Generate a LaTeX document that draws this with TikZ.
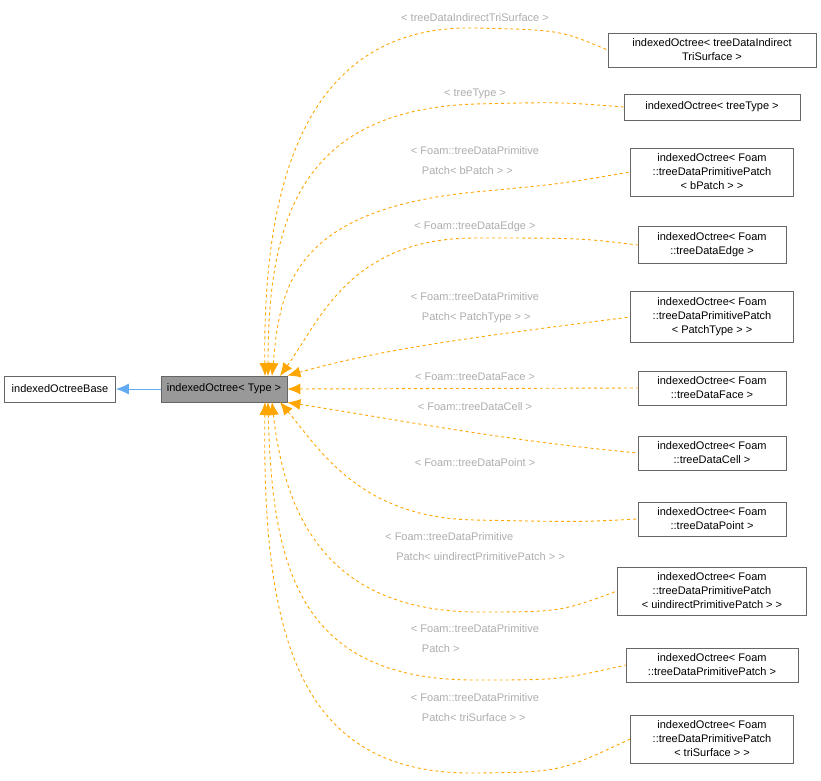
\documentclass[tikz,border=0pt]{standalone}
\usepackage{fontspec}
\setmainfont{Liberation Sans}
\usetikzlibrary{arrows.meta}
\definecolor{edgeorange}{rgb}{1,0.65,0}
\definecolor{labelgray}{rgb}{0.68,0.68,0.68}
\definecolor{basegray}{rgb}{0.6,0.6,0.6}
\definecolor{baseblue}{rgb}{0.39,0.67,0.94}

\begin{document}
\begin{tikzpicture}[x=1pt,y=-1pt,font=\fontsize{11}{14}\selectfont]
\tikzstyle{box} = [draw=black!60, fill=white, align=center, inner xsep=3pt, inner ysep=6pt, minimum height=26pt, line width=0.8pt]
\tikzstyle{tmpl} = [dashed, edgeorange, line width=0.9pt, {Latex[length=13pt,width=11pt]}-]
\tikzstyle{lbl} = [text=labelgray, align=left, font=\fontsize{11}{20}\selectfont]
\useasboundingbox (0,0) rectangle (821,780);

\node[box, minimum width=111pt] (base) at (60,389) {indexedOctreeBase};
\node[box, minimum width=126pt, fill=basegray] (type) at (224,389) {indexedOctree< Type >};

\node[box, minimum width=208pt] (n1) at (712,50) {indexedOctree< treeDataIndirect\\TriSurface >};
\node[box, minimum width=176pt] (n2) at (712,107) {indexedOctree< treeType >};
\node[box, minimum width=163pt] (n3) at (712,172) {indexedOctree< Foam\\::treeDataPrimitivePatch\\< bPatch > >};
\node[box, minimum width=148pt] (n4) at (712,245) {indexedOctree< Foam\\::treeDataEdge >};
\node[box, minimum width=163pt] (n5) at (712,317) {indexedOctree< Foam\\::treeDataPrimitivePatch\\< PatchType > >};
\node[box, minimum width=148pt] (n6) at (712,388) {indexedOctree< Foam\\::treeDataFace >};
\node[box, minimum width=148pt] (n7) at (712,453) {indexedOctree< Foam\\::treeDataCell >};
\node[box, minimum width=148pt] (n8) at (712,519) {indexedOctree< Foam\\::treeDataPoint >};
\node[box, minimum width=189pt] (n9) at (712,591) {indexedOctree< Foam\\::treeDataPrimitivePatch\\< uindirectPrimitivePatch > >};
\node[box, minimum width=172pt] (n10) at (712,665) {indexedOctree< Foam\\::treeDataPrimitivePatch >};
\node[box, minimum width=163pt] (n11) at (712,739) {indexedOctree< Foam\\::treeDataPrimitivePatch\\< triSurface > >};

\draw[-{Latex[length=13pt,width=11pt]}, baseblue, line width=0.9pt] (type) -- (base);

% template instances
\draw[tmpl] (265,376) .. controls (262,140) and (330,25) .. (475,28) .. controls (560,30) .. (n1.west);
\draw[tmpl] (268,376) .. controls (268,220) and (300,110) .. (475,104) .. controls (560,102) .. (n2.west);
\draw[tmpl] (272,376) .. controls (280,290) and (290,210) .. (475,192) .. controls (560,184) .. (n3.west);
\draw[tmpl] (280,376) .. controls (320,320) and (350,238) .. (475,238) .. controls (580,238) .. (n4.west);
\draw[tmpl] (type.north east) .. controls (380,350) and (450,340) .. (n5.west);
\draw[tmpl] (type.east) -- (n6.west);
\draw[tmpl] (type.south east) .. controls (400,420) and (500,440) .. (n7.west);
\draw[tmpl] (280,402) .. controls (320,450) and (360,518) .. (475,520) .. controls (580,522) .. (n8.west);
\draw[tmpl] (272,402) .. controls (285,520) and (330,610) .. (475,612) .. controls (560,612) .. (n9.west);
\draw[tmpl] (268,402) .. controls (272,570) and (300,680) .. (475,680) .. controls (560,680) .. (n10.west);
\draw[tmpl] (265,402) .. controls (262,640) and (300,775) .. (475,773) .. controls (560,772) .. (n11.west);

\node[lbl] (l1) at (475,18) {< treeDataIndirectTriSurface >};
\node[lbl] (l2) at (475,94) {< treeType >};
\node[lbl] (l3) at (475,161) {< Foam::treeDataPrimitive\\\quad Patch< bPatch > >};
\node[lbl] (l4) at (475,227) {< Foam::treeDataEdge >};
\node[lbl] (l5) at (475,308) {< Foam::treeDataPrimitive\\\quad Patch< PatchType > >};
\node[lbl] (l6) at (475,377) {< Foam::treeDataFace >};
\node[lbl] (l7) at (475,407) {< Foam::treeDataCell >};
\node[lbl] (l8) at (475,463) {< Foam::treeDataPoint >};
\node[lbl] (l9) at (475,547) {< Foam::treeDataPrimitive\\\quad Patch< uindirectPrimitivePatch > >};
\node[lbl] (l10) at (475,639) {< Foam::treeDataPrimitive\\\quad Patch >};
\node[lbl] (l11) at (475,708) {< Foam::treeDataPrimitive\\\quad Patch< triSurface > >};
\end{tikzpicture}
\end{document}
